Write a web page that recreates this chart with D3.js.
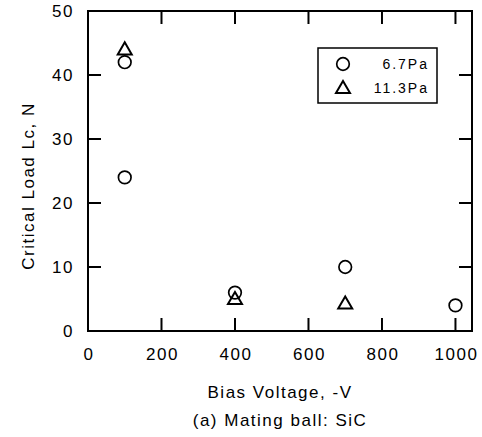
<!DOCTYPE html>
<html>
<head>
<meta charset="utf-8">
<script src="https://d3js.org/d3.v7.min.js"></script>
<style>
  body { margin: 0; background: #fff; }
  text { font-family: "Liberation Sans", Arial, sans-serif; fill: #000; letter-spacing: 1.5px; }
</style>
</head>
<body>
<div id="chart"></div>
<script>
// data
const xTicks = [0, 200, 400, 600, 800, 1000];
const yTicks = [0, 10, 20, 30, 40, 50];
const seriesNames = ["6.7Pa", "11.3Pa"];
const circleX = [100, 100, 400, 700, 1000];
const circleY = [42, 24, 6, 10, 4];
const triX = [100, 400, 700];
const triY = [44, 5, 4.3];

const W = 482, H = 437;
const m = { left: 88, top: 11, right: 10, bottom: 106 };

const svg = d3.select("#chart").append("svg")
  .attr("width", W).attr("height", H);

const x = d3.scaleLinear().domain([0, 1045]).range([m.left, W - m.right]);
const y = d3.scaleLinear().domain([0, 50]).range([H - m.bottom, m.top]);

// frame
svg.append("rect")
  .attr("x", x(0)).attr("y", y(50))
  .attr("width", x(1045) - x(0)).attr("height", y(0) - y(50))
  .attr("fill", "none").attr("stroke", "#000").attr("stroke-width", 2);

const tk = 13;
// bottom + top ticks, inward
xTicks.slice(1).forEach(function(v) {
  svg.append("line").attr("x1", x(v)).attr("x2", x(v))
    .attr("y1", y(0)).attr("y2", y(0) - tk)
    .attr("stroke", "#000").attr("stroke-width", 2);
  svg.append("line").attr("x1", x(v)).attr("x2", x(v))
    .attr("y1", y(50)).attr("y2", y(50) + tk)
    .attr("stroke", "#000").attr("stroke-width", 2);
});
// left + right ticks
yTicks.slice(1, -1).forEach(function(v) {
  svg.append("line").attr("x1", x(0)).attr("x2", x(0) + tk)
    .attr("y1", y(v)).attr("y2", y(v))
    .attr("stroke", "#000").attr("stroke-width", 2);
  svg.append("line").attr("x1", x(1045)).attr("x2", x(1045) - tk)
    .attr("y1", y(v)).attr("y2", y(v))
    .attr("stroke", "#000").attr("stroke-width", 2);
});

// tick labels
svg.selectAll(".xl").data(xTicks).enter().append("text")
  .attr("x", d => x(d) + 1).attr("y", y(0) + 29)
  .attr("text-anchor", "middle").attr("font-size", 17)
  .text(d => d);
svg.selectAll(".yl").data(yTicks).enter().append("text")
  .attr("x", 74).attr("y", d => y(d) + 6)
  .attr("text-anchor", "end").attr("font-size", 17)
  .text(d => d);

// axis titles
const cx = (x(0) + x(1045)) / 2;
svg.append("text").attr("x", cx).attr("y", 398)
  .attr("text-anchor", "middle").attr("font-size", 17)
  .text("Bias Voltage, -V");
svg.append("text").attr("x", cx).attr("y", 426)
  .attr("text-anchor", "middle").attr("font-size", 17)
  .text("(a) Mating ball: SiC");
svg.append("text")
  .attr("transform", "translate(34," + 186 + ") rotate(-90)")
  .attr("text-anchor", "middle").attr("font-size", 17)
  .text("Critical Load Lc, N");

const tri = d3.symbol().type(d3.symbolTriangle).size(85);

// points
circleX.forEach(function(v, i) {
  svg.append("circle").attr("cx", x(v)).attr("cy", y(circleY[i])).attr("r", 6.3)
    .attr("fill", "none").attr("stroke", "#000").attr("stroke-width", 1.7);
});
triX.forEach(function(v, i) {
  svg.append("path").attr("d", tri)
    .attr("transform", "translate(" + x(v) + "," + (y(triY[i]) + 1) + ")")
    .attr("fill", "none").attr("stroke", "#000").attr("stroke-width", 2);
});

// legend
const lg = svg.append("g");
lg.append("rect").attr("x", 318).attr("y", 48).attr("width", 119).attr("height", 55)
  .attr("fill", "#fff").attr("stroke", "#000").attr("stroke-width", 1.5);
lg.append("circle").attr("cx", 343).attr("cy", 64).attr("r", 6.3)
  .attr("fill", "none").attr("stroke", "#000").attr("stroke-width", 1.7);
lg.append("path").attr("d", tri).attr("transform", "translate(343,89)")
  .attr("fill", "none").attr("stroke", "#000").attr("stroke-width", 2);
seriesNames.forEach(function(s, i) {
  lg.append("text").attr("x", 429).attr("y", 69 + i * 24)
    .attr("text-anchor", "end").attr("font-size", 14)
    .style("letter-spacing", "2px").text(s);
});
</script>
</body>
</html>
